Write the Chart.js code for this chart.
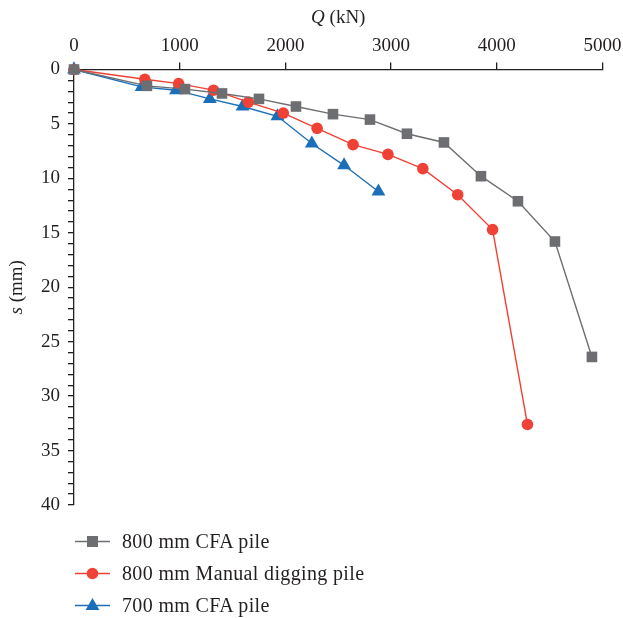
<!DOCTYPE html>
<html>
<head>
<meta charset="utf-8">
<script src="https://cdn.jsdelivr.net/npm/chart.js@4"></script>
<style>
  html, body { margin: 0; padding: 0; background: #fff; }
  #wrap { position: relative; width: 623px; height: 618px; }
  #c { position: absolute; left: 0; top: 0; }
  .leg { position: absolute; left: 73px; height: 24px; display: flex; align-items: center;
         font-family: "Liberation Serif", serif; font-size: 20px; color: #231f20; letter-spacing: 0.35px; white-space: nowrap; }
  .leg svg { margin-right: 10px; }
</style>
</head>
<body>
<div id="wrap">
  <canvas id="c" width="623" height="618"></canvas>
  <div id="legend"></div>
</div>
<script>
// Series names
const seriesNames = ["800 mm CFA pile", "800 mm Manual digging pile", "700 mm CFA pile"];
// 800 mm CFA pile: load Q (kN) and settlement s (mm)
const cfa800Q = [0, 690, 1050, 1400, 1750, 2100, 2450, 2800, 3150, 3500, 3850, 4200, 4550, 4900];
const cfa800S = [0, 1.5, 1.8, 2.2, 2.7, 3.4, 4.1, 4.6, 5.9, 6.7, 9.8, 12.1, 15.8, 26.4];
// 800 mm Manual digging pile
const manual800Q = [0, 670, 990, 1320, 1650, 1980, 2300, 2640, 2970, 3300, 3630, 3960, 4290];
const manual800S = [0, 0.9, 1.3, 1.9, 3.0, 4.0, 5.4, 6.9, 7.8, 9.1, 11.5, 14.7, 32.6];
// 700 mm CFA pile
const cfa700Q = [0, 640, 965, 1285, 1595, 1925, 2250, 2555, 2880];
const cfa700S = [0, 1.6, 1.9, 2.7, 3.4, 4.3, 6.8, 8.8, 11.2];
// Axis ticks
const xTicks = [0, 1000, 2000, 3000, 4000, 5000];
const yMajorTicks = [0, 5, 10, 15, 20, 25, 30, 35, 40];
// Axis titles: [italic symbol, unit]
const xTitle = ["Q", " (kN)"];
const yTitle = ["s", " (mm)"];

const colors = ["#6d6e71", "#ef4136", "#1b6fb8"];
const styles = ["rect", "circle", "triangle"];
const radii = [7.5, 5.8, 8];

function pts(q, s) { return q.map((v, i) => ({ x: v, y: s[i] })); }
const seriesData = [pts(cfa800Q, cfa800S), pts(manual800Q, manual800S), pts(cfa700Q, cfa700S)];

const datasets = seriesNames.map((name, i) => ({
  label: name,
  data: seriesData[i],
  borderColor: colors[i],
  backgroundColor: colors[i],
  borderWidth: 1.4,
  pointStyle: styles[i],
  pointRadius: radii[i],
  pointHoverRadius: radii[i],
  pointBorderWidth: 0,
  pointBackgroundColor: colors[i],
  showLine: true,
  tension: 0,
  clip: false
}));

const FAMILY = "Liberation Serif";
const font = { family: FAMILY, size: 19 };
const ink = "#231f20";

function drawMixed(ctx, parts, cx, cy) {
  ctx.font = "italic 19px '" + FAMILY + "'";
  const w1 = ctx.measureText(parts[0]).width;
  ctx.font = "19px '" + FAMILY + "'";
  const w2 = ctx.measureText(parts[1]).width;
  let x = cx - (w1 + w2) / 2;
  ctx.textBaseline = "middle";
  ctx.textAlign = "left";
  ctx.fillStyle = ink;
  ctx.font = "italic 19px '" + FAMILY + "'";
  ctx.fillText(parts[0], x, cy);
  ctx.font = "19px '" + FAMILY + "'";
  ctx.fillText(parts[1], x + w1, cy);
}

new Chart(document.getElementById("c"), {
  type: "scatter",
  data: { datasets },
  options: {
    responsive: false,
    animation: false,
    events: [],
    layout: { padding: { left: 0, right: 20.5, top: 0, bottom: 113 } },
    plugins: { legend: { display: false }, tooltip: { enabled: false } },
    scales: {
      x: {
        type: "linear",
        position: "top",
        min: 0, max: 5000,
        afterBuildTicks: (sc) => { sc.ticks = xTicks.map(v => ({ value: v })); },
        afterFit: (sc) => { sc.height = 69.5; sc.paddingLeft = 0; sc.paddingRight = 0; },
        ticks: { font, color: ink, padding: 5, maxRotation: 0, callback: (v) => String(v) },
        grid: { drawOnChartArea: false, drawTicks: true, tickLength: 7, color: ink, lineWidth: 1.3 },
        border: { display: true, color: ink, width: 1.3 },
        title: { display: false }
      },
      y: {
        type: "linear",
        reverse: true,
        min: 0, max: 40,
        afterBuildTicks: (sc) => {
          const t = [];
          for (let v = 0; v <= 40; v++) t.push({ value: v });
          sc.ticks = t;
        },
        afterFit: (sc) => { sc.width = 74; },
        ticks: {
          font, color: ink, padding: 8, autoSkip: false,
          callback: (v) => yMajorTicks.includes(v) ? String(v) : ""
        },
        grid: { drawOnChartArea: false, drawTicks: true, tickLength: 6, color: ink, lineWidth: 1.3 },
        border: { display: true, color: ink, width: 1.3 },
        title: { display: false }
      }
    }
  },
  plugins: [{
    id: "axisTitles",
    afterDraw(chart) {
      const ctx = chart.ctx;
      const a = chart.chartArea;
      ctx.save();
      drawMixed(ctx, xTitle, (a.left + a.right) / 2, 18);
      ctx.translate(17, (a.top + a.bottom) / 2);
      ctx.rotate(-Math.PI / 2);
      drawMixed(ctx, yTitle, 0, 0);
      ctx.restore();
    }
  }]
});

// HTML legend built from the datasets
const legend = document.getElementById("legend");
const rowCenters = [541, 573, 605];
seriesNames.forEach((name, i) => {
  const row = document.createElement("div");
  row.className = "leg";
  row.style.top = (rowCenters[i] - 12) + "px";
  let marker = "";
  if (styles[i] === "rect") marker = `<rect x="14" y="5" width="11" height="11" fill="${colors[i]}"/>`;
  else if (styles[i] === "circle") marker = `<circle cx="19.5" cy="10.5" r="5.8" fill="${colors[i]}"/>`;
  else marker = `<polygon points="19.5,3 26.4,15 12.6,15" fill="${colors[i]}"/>`;
  row.innerHTML = `<svg width="39" height="21" viewBox="0 0 39 21"><line x1="2" y1="10.5" x2="37" y2="10.5" stroke="${colors[i]}" stroke-width="1.4"/>${marker}</svg><span>${name}</span>`;
  legend.appendChild(row);
});
</script>
</body>
</html>
